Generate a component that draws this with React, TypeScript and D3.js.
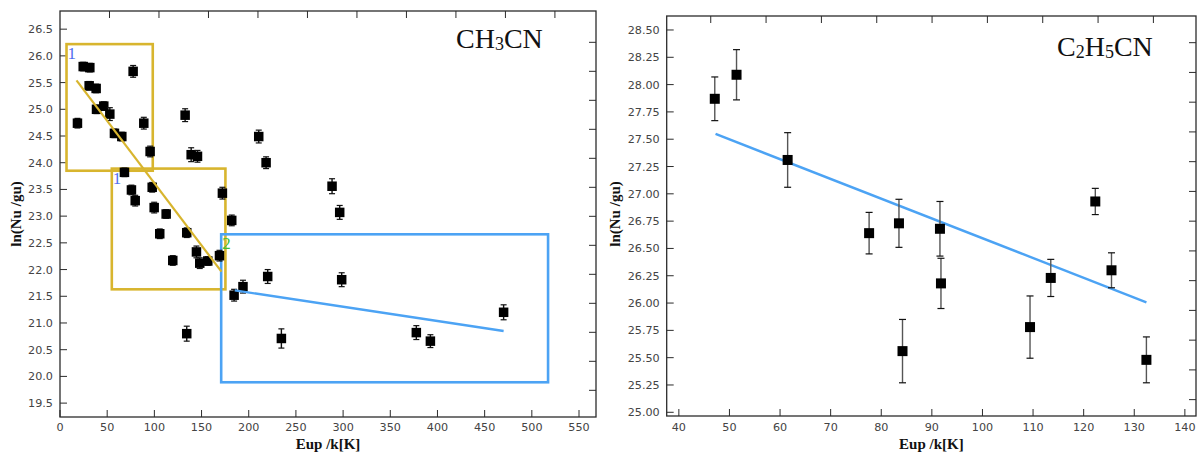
import React from "react";
import * as d3 from "d3";

// ---------- Left panel (CH3CN) ----------
const ch3cnEup = [18.5, 24.6, 31.6, 30.9, 38.3, 38.7, 46.4, 52.8, 57.7, 65.5, 77.5, 88.8, 95.5, 68.3, 75.7, 79.7, 97.7, 99.8, 112.5, 105.7, 134.3, 119.5, 132.6, 139.0, 145.7, 144.6, 148.1, 156.6, 169.0, 172.1, 182.0, 184.5, 193.9, 210.6, 218.4, 220.1, 234.6, 134.3, 288.3, 296.4, 298.5, 377.6, 392.5, 470.1];
const ch3cnLnN = [24.74, 25.80, 25.78, 25.44, 25.39, 25.00, 25.06, 24.91, 24.55, 24.49, 25.71, 24.74, 24.21, 23.82, 23.49, 23.29, 23.54, 23.16, 23.04, 22.67, 22.69, 22.17, 24.89, 24.15, 24.12, 22.33, 22.12, 22.16, 22.26, 23.43, 22.92, 21.52, 21.68, 24.49, 24.00, 21.87, 20.71, 20.80, 23.56, 23.07, 21.81, 20.82, 20.66, 21.20];
const ch3cnErr = [0.09, 0.08, 0.08, 0.08, 0.08, 0.08, 0.08, 0.12, 0.08, 0.08, 0.11, 0.11, 0.10, 0.08, 0.09, 0.10, 0.09, 0.10, 0.08, 0.09, 0.09, 0.09, 0.12, 0.13, 0.11, 0.11, 0.10, 0.08, 0.10, 0.11, 0.10, 0.11, 0.12, 0.12, 0.11, 0.13, 0.18, 0.14, 0.14, 0.13, 0.13, 0.13, 0.12, 0.14];

// fit lines [x0, y0, x1, y1]
const ch3cnFitGold = [17.5, 25.54, 171.1, 21.96];
const ch3cnFitBlue = [185.2, 21.61, 470.1, 20.85];
// boxes [xMin, xMax, yMin, yMax]
const ch3cnBox1 = [6.9, 98.3, 23.85, 26.22];
const ch3cnBox2 = [54.9, 175.3, 21.63, 23.89];
const ch3cnBox3 = [170.8, 517.2, 19.89, 22.66];
const ch3cnBoxLabels = ["1", "1", "2"];

const leftXTicks = [0, 50, 100, 150, 200, 250, 300, 350, 400, 450, 500, 550];
const leftYTicks = [19.5, 20.0, 20.5, 21.0, 21.5, 22.0, 22.5, 23.0, 23.5, 24.0, 24.5, 25.0, 25.5, 26.0, 26.5];
const leftTopTicks = [1, 2, 3, 4, 5, 6, 7, 8, 9, 10];
const leftRightTicks = [1, 2, 3, 4, 5, 6, 7, 8, 9, 10, 11, 12, 13];

// ---------- Right panel (C2H5CN) ----------
const c2h5cnEup = [47.1, 51.4, 61.5, 77.6, 83.5, 84.2, 91.6, 91.8, 109.4, 113.5, 122.3, 125.5, 132.4];
const c2h5cnLnN = [27.87, 28.09, 27.31, 26.64, 26.73, 25.56, 26.68, 26.18, 25.78, 26.23, 26.93, 26.30, 25.48];
const c2h5cnErr = [0.20, 0.23, 0.25, 0.19, 0.22, 0.29, 0.25, 0.23, 0.285, 0.17, 0.12, 0.16, 0.21];
const c2h5cnFit = [47.25, 27.548, 132.4, 26.007];

const rightXTicks = [40, 50, 60, 70, 80, 90, 100, 110, 120, 130, 140];
const rightYTicks = [25.0, 25.25, 25.5, 25.75, 26.0, 26.25, 26.5, 26.75, 27.0, 27.25, 27.5, 27.75, 28.0, 28.25, 28.5];
const rightTopTicks = [1, 2, 3, 4, 5, 6, 7, 8, 9];
const rightRightTicks = [1, 2, 3, 4, 5, 6, 7, 8, 9, 10, 11, 12, 13];

const GOLD = "#d8b52e";
const BLUE = "#4ca3f4";
const AXIS = "#2b2b2b";
const TICKTXT = "#444";
const TICKFONT = "DejaVu Sans, Verdana, sans-serif";
const SERIF = "Liberation Serif, Times New Roman, serif";

type PanelProps = {
  x: d3.ScaleLinear<number, number>;
  y: d3.ScaleLinear<number, number>;
  top: d3.ScaleLinear<number, number>;
  right: d3.ScaleLinear<number, number>;
  xTicks: number[];
  yTicks: number[];
  topTicks: number[];
  rightTicks: number[];
  xFmt: (v: number) => string;
  yFmt: (v: number) => string;
  ylabelX: number;
};

function Frame(p: PanelProps) {
  const [x0, x1] = p.x.range();
  const [y0, y1] = p.y.range(); // y0 bottom, y1 top
  const tl = 7;
  return (
    <g>
      <rect x={x0} y={y1} width={x1 - x0} height={y0 - y1} fill="none" stroke={AXIS} strokeWidth={1.3} />
      {p.xTicks.map((t) => (
        <g key={"xt" + t}>
          <line x1={p.x(t)} x2={p.x(t)} y1={y0} y2={y0 - tl} stroke={AXIS} strokeWidth={1} />
          <text x={p.x(t)} y={431} textAnchor="middle" fontFamily={TICKFONT} fontSize={11.2} fill={TICKTXT}>
            {p.xFmt(t)}
          </text>
        </g>
      ))}
      {p.yTicks.map((t) => (
        <g key={"yt" + t}>
          <line x1={x0} x2={x0 + tl} y1={p.y(t)} y2={p.y(t)} stroke={AXIS} strokeWidth={1} />
          <text x={x0 - 7} y={p.y(t) + 4} textAnchor="end" fontFamily={TICKFONT} fontSize={11.2} fill={TICKTXT}>
            {p.yFmt(t)}
          </text>
        </g>
      ))}
      {p.topTicks.map((t) => (
        <line key={"tt" + t} x1={p.top(t)} x2={p.top(t)} y1={y1} y2={y1 + tl} stroke={AXIS} strokeWidth={1} />
      ))}
      {p.rightTicks.map((t) => (
        <line key={"rt" + t} x1={x1} x2={x1 - tl} y1={p.right(t)} y2={p.right(t)} stroke={AXIS} strokeWidth={1} />
      ))}
      <text
        x={(x0 + x1) / 2}
        y={449}
        textAnchor="middle"
        fontFamily={SERIF}
        fontWeight="bold"
        fontSize={15}
        fill="#111"
      >
        Eup /k[K]
      </text>
      <text
        transform={`translate(${p.ylabelX},214) rotate(-90)`}
        textAnchor="middle"
        fontFamily={SERIF}
        fontWeight="bold"
        fontSize={15}
        fill="#111"
      >
        ln(Nu /gu)
      </text>
    </g>
  );
}

function Points(props: {
  x: d3.ScaleLinear<number, number>;
  y: d3.ScaleLinear<number, number>;
  xs: number[];
  ys: number[];
  errs: number[];
  size: number;
  errColor: string;
  capW: number;
}) {
  const { x, y, xs, ys, errs, size, errColor, capW } = props;
  return (
    <g>
      {xs.map((xv, i) => {
        const cx = x(xv);
        const cy = y(ys[i]);
        const yt = y(ys[i] + errs[i]);
        const yb = y(ys[i] - errs[i]);
        return (
          <g key={i}>
            <line x1={cx} x2={cx} y1={yt} y2={yb} stroke={errColor} strokeWidth={1.4} />
            <line x1={cx - capW} x2={cx + capW} y1={yt} y2={yt} stroke="#111" strokeWidth={1.2} />
            <line x1={cx - capW} x2={cx + capW} y1={yb} y2={yb} stroke="#111" strokeWidth={1.2} />
            <rect x={cx - size / 2} y={cy - size / 2} width={size} height={size} fill="#000" />
          </g>
        );
      })}
    </g>
  );
}

export default function App() {
  // Left panel scales
  const xL = d3.scaleLinear().domain([0, 568]).range([60, 596]);
  const yL = d3.scaleLinear().domain([19.24, 26.84]).range([417, 11]);
  const topL = d3.scaleLinear().domain([0, 10.83]).range([60, 596]);
  const rightL = d3.scaleLinear().domain([-0.08, 13.92]).range([11, 417]);

  // Right panel scales
  const xR = d3.scaleLinear().domain([37.6, 142.2]).range([666.7, 1196]);
  const yR = d3.scaleLinear().domain([24.966, 28.628]).range([416, 16]);
  const topR = d3.scaleLinear().domain([0.204, 9.77]).range([666.7, 1196]);
  const rightR = d3.scaleLinear().domain([0.103, 13.55]).range([16, 416]);

  const fmt1 = d3.format(".1f");
  const fmt2 = d3.format(".2f");
  const fmt0 = d3.format("d");

  const line = d3.line<number[]>().x((d) => d[0]).y((d) => d[1]);

  const boxes = [
    { b: ch3cnBox1, c: GOLD, lc: "#4f6ff0" },
    { b: ch3cnBox2, c: GOLD, lc: "#4f6ff0" },
    { b: ch3cnBox3, c: BLUE, lc: "#3cbf3c" },
  ];

  return (
    <svg
      width={1203}
      height={457}
      style={{ position: "absolute", left: 0, top: 0, background: "#fff" }}
    >
      <rect x={0} y={0} width={1203} height={457} fill="#fff" />

      {/* ---------- Left panel ---------- */}
      <Frame
        x={xL}
        y={yL}
        top={topL}
        right={rightL}
        xTicks={leftXTicks}
        yTicks={leftYTicks}
        topTicks={leftTopTicks}
        rightTicks={leftRightTicks}
        xFmt={fmt0}
        yFmt={fmt1}
        ylabelX={21}
      />
      {boxes.map((bx, i) => (
        <g key={"box" + i}>
          <rect
            x={xL(bx.b[0])}
            y={yL(bx.b[3])}
            width={xL(bx.b[1]) - xL(bx.b[0])}
            height={yL(bx.b[2]) - yL(bx.b[3])}
            fill="none"
            stroke={bx.c}
            strokeWidth={2.6}
          />
          <text
            x={xL(bx.b[0]) + 1}
            y={yL(bx.b[3]) + 15}
            fontFamily={SERIF}
            fontSize={17}
            fill={bx.lc}
          >
            {ch3cnBoxLabels[i]}
          </text>
        </g>
      ))}
      <Points x={xL} y={yL} xs={ch3cnEup} ys={ch3cnLnN} errs={ch3cnErr} size={9.5} errColor="#111" capW={3} />
      <path
        d={line([
          [xL(ch3cnFitGold[0]), yL(ch3cnFitGold[1])],
          [xL(ch3cnFitGold[2]), yL(ch3cnFitGold[3])],
        ]) as string}
        stroke={GOLD}
        strokeWidth={2.2}
        fill="none"
      />
      <path
        d={line([
          [xL(ch3cnFitBlue[0]), yL(ch3cnFitBlue[1])],
          [xL(ch3cnFitBlue[2]), yL(ch3cnFitBlue[3])],
        ]) as string}
        stroke={BLUE}
        strokeWidth={2.4}
        fill="none"
      />
      <text x={456} y={48} fontFamily={SERIF} fontSize={28} fill="#111">
        CH
        <tspan fontSize={18} dy={2}>3</tspan>
        <tspan dy={-2}>CN</tspan>
      </text>

      {/* ---------- Right panel ---------- */}
      <Frame
        x={xR}
        y={yR}
        top={topR}
        right={rightR}
        xTicks={rightXTicks}
        yTicks={rightYTicks}
        topTicks={rightTopTicks}
        rightTicks={rightRightTicks}
        xFmt={fmt0}
        yFmt={fmt2}
        ylabelX={620}
      />
      <path
        d={line([
          [xR(c2h5cnFit[0]), yR(c2h5cnFit[1])],
          [xR(c2h5cnFit[2]), yR(c2h5cnFit[3])],
        ]) as string}
        stroke={BLUE}
        strokeWidth={2.4}
        fill="none"
      />
      <Points x={xR} y={yR} xs={c2h5cnEup} ys={c2h5cnLnN} errs={c2h5cnErr} size={10} errColor="#555" capW={3.5} />
      <text x={1057} y={56} fontFamily={SERIF} fontSize={28} fill="#111">
        C
        <tspan fontSize={18} dy={2}>2</tspan>
        <tspan dy={-2}>H</tspan>
        <tspan fontSize={18} dy={2}>5</tspan>
        <tspan dy={-2}>CN</tspan>
      </text>
    </svg>
  );
}
